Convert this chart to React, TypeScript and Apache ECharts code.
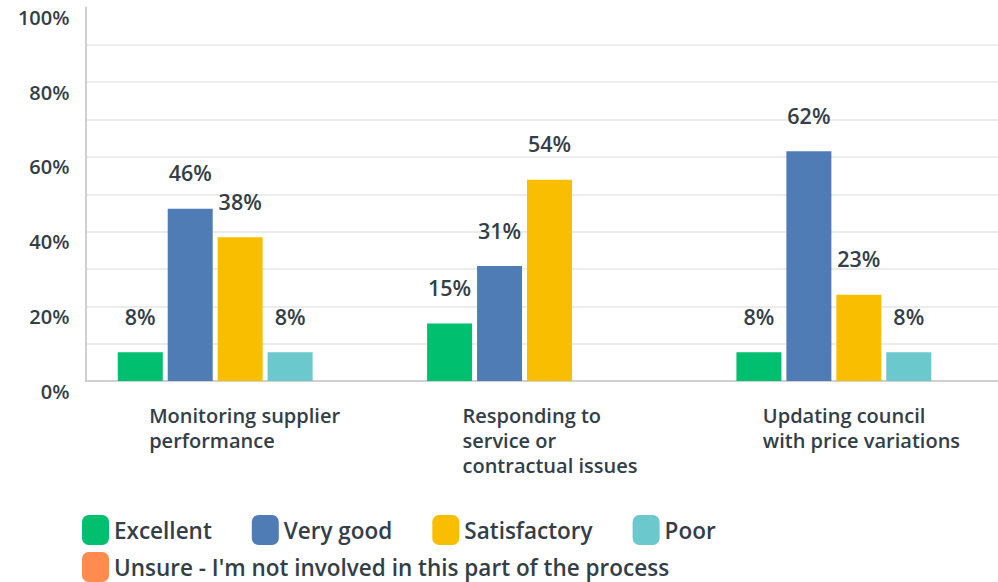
import React, { useEffect, useRef } from "react";
import * as echarts from "echarts";

const categories = [
  ["Monitoring supplier", "performance"],
  ["Responding to", "service or", "contractual issues"],
  ["Updating council", "with price variations"],
];
const seriesNames = [
  "Excellent",
  "Very good",
  "Satisfactory",
  "Poor",
  "Unsure - I'm not involved in this part of the process",
];
const excellent = [7.69, 15.38, 7.69];
const veryGood = [46.15, 30.77, 61.54];
const satisfactory = [38.46, 53.85, 23.08];
const poor = [7.69, 0, 7.69];
const unsure = [0, 0, 0];
const colors = ["#00bf6f", "#507cb6", "#f9be00", "#6bc8cd", "#ff8b4f"];
const yTicks = [0, 20, 40, 60, 80, 100];

const TEXT = "#333e48";
const FONT = "'Open Sans', sans-serif";

export default function App() {
  const ref = useRef<HTMLDivElement>(null);
  useEffect(() => {
    const chart = echarts.init(ref.current!, null, { renderer: "svg" });
    const values = [excellent, veryGood, satisfactory, poor, unsure];
    const blockWidths = [182, 174, 192];
    const rich: any = {};
    blockWidths.forEach((w, i) => {
      rich["c" + i] = {
        width: w,
        align: "left",
        fontSize: 20,
        fontWeight: 600,
        color: TEXT,
        fontFamily: FONT,
        lineHeight: 25,
      };
    });
    const legendText = { color: TEXT, fontSize: 22.5, fontWeight: 600, fontFamily: FONT };
    chart.setOption({
      animation: false,
      textStyle: { fontFamily: FONT },
      grid: { left: 85.5, top: 7.5, right: 1.5, bottom: 201, containLabel: false },
      legend: [
        {
          data: seriesNames.slice(0, 4),
          left: 82,
          top: 515,
          padding: 0,
          itemWidth: 27,
          itemHeight: 30,
          itemGap: 40,
          icon: "roundRect",
          textStyle: legendText,
          selectedMode: false,
        },
        {
          data: [seriesNames[4]],
          left: 82,
          top: 552,
          padding: 0,
          itemWidth: 27,
          itemHeight: 30,
          icon: "roundRect",
          textStyle: legendText,
          selectedMode: false,
        },
      ],
      xAxis: {
        type: "category",
        data: categories.map((c) => c.join("\n")),
        axisLine: { show: true, lineStyle: { color: "#d0d0d0", width: 2 } },
        axisTick: { show: false },
        axisLabel: {
          margin: 22,
          interval: 0,
          formatter: (v: string, idx: number) =>
            v
              .split("\n")
              .map((l) => `{c${idx}|${l}}`)
              .join("\n"),
          rich,
        },
      },
      yAxis: {
        type: "value",
        min: 0,
        max: 100,
        interval: 10,
        axisLine: { show: true, lineStyle: { color: "#d0d0d0", width: 2 } },
        axisTick: { show: false },
        splitLine: { show: true, showMaxLine: false, lineStyle: { color: "#ececec", width: 2 } },
        axisLabel: {
          margin: 16,
          color: TEXT,
          fontSize: 20,
          fontWeight: 600,
          fontFamily: FONT,
          verticalAlign: "top",
          formatter: (v: number) => (yTicks.includes(v) ? v + "%" : ""),
        },
      },
      series: seriesNames.map((name, i) => ({
        name,
        type: "bar",
        data: values[i],
        barWidth: 45,
        barGap: "11%",
        itemStyle: { color: colors[i] },
        label: {
          show: true,
          position: "top",
          distance: 25,
          color: TEXT,
          fontSize: 21.5,
          fontWeight: 600,
          fontFamily: FONT,
          formatter: (p: any) => (p.value > 0 ? Math.round(p.value) + "%" : ""),
        },
      })),
    });
    return () => chart.dispose();
  }, []);
  return (
    <div style={{ position: "absolute", left: 0, top: 0, width: 998, height: 582, overflow: "hidden" }}>
      <div ref={ref} style={{ width: 1015, height: 582 }} />
    </div>
  );
}
